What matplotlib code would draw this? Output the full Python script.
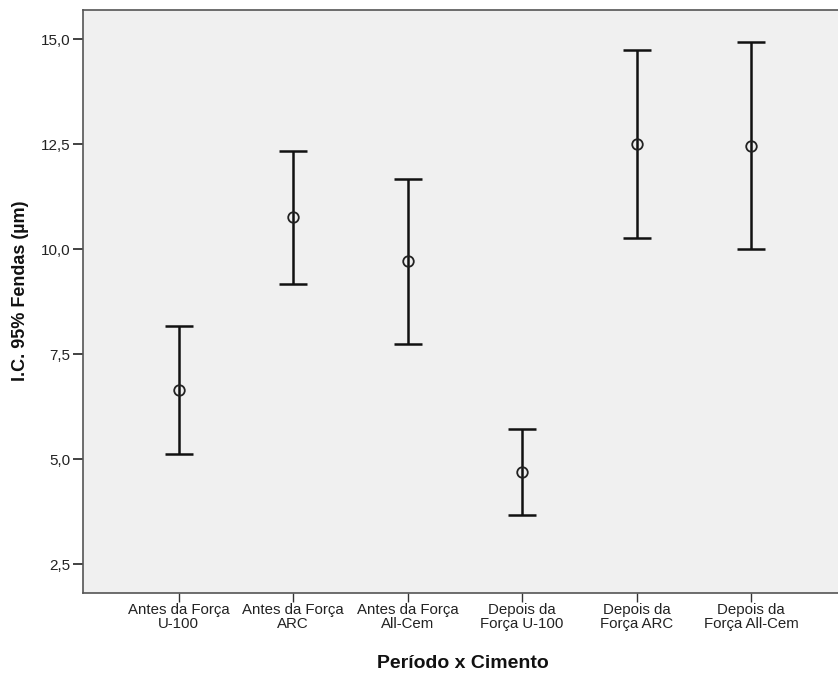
import matplotlib
matplotlib.use("Agg")
import matplotlib.pyplot as plt
import numpy as np

categories = ["Antes da Força\nU-100", "Antes da Força\nARC", "Antes da Força\nAll-Cem",
              "Depois da\nForça U-100", "Depois da\nForça ARC", "Depois da\nForça All-Cem"]
means = [6.64, 10.76, 9.72, 4.70, 12.50, 12.47]
lower = [5.11, 9.18, 7.75, 3.66, 10.26, 10.01]
upper = [8.17, 12.35, 11.67, 5.71, 14.75, 14.94]
yticks = [2.5, 5.0, 7.5, 10.0, 12.5, 15.0]
ytick_labels = ["2,5", "5,0", "7,5", "10,0", "12,5", "15,0"]

plt.rcParams['font.family'] = ['Liberation Sans', 'DejaVu Sans']

fig = plt.figure(figsize=(8.38, 6.77), dpi=100)
ax = fig.add_axes([83/838, 1-593/677, 1-83/838, (593-9.7)/677])
ax.set_facecolor('#F0F0F0')

x = np.arange(len(categories))
m = np.array(means)
yerr = np.vstack([m - np.array(lower), np.array(upper) - m])
ax.errorbar(x, m, yerr=yerr, fmt='none', ecolor='#111111', elinewidth=1.8,
            capsize=10.4, capthick=1.8, zorder=2)
ax.plot(x, m, 'o', mfc='none', mec='#222222', mew=1.3, ms=7.6, zorder=3)

ax.set_xlim(-0.837, 5.76)
ax.set_ylim(1.81, 15.705)
ax.set_yticks(yticks)
ax.set_yticklabels(ytick_labels)
ax.set_xticks(x)
ax.set_xticklabels(categories, linespacing=0.95)

for s in ['left', 'bottom', 'top']:
    ax.spines[s].set_color('#555555')
    ax.spines[s].set_linewidth(1.2)
ax.spines['right'].set_visible(False)

ax.tick_params(axis='y', direction='out', length=7, width=1.3, color='#333333',
               labelsize=11, labelcolor='#222222', pad=2)
ax.tick_params(axis='x', direction='out', length=6.5, width=1.0, color='#333333',
               labelsize=10.8, labelcolor='#222222', pad=1)

ax.set_ylabel("I.C. 95% Fendas (µm)", fontsize=13, fontweight='bold', color='#111111',
              va='center', ha='center')
ax.yaxis.set_label_coords(-0.0834, 0.518)
ax.set_xlabel("Período x Cimento", fontsize=14, fontweight='bold', color='#111111',
              va='center', ha='center')
ax.xaxis.set_label_coords((463-83)/755, (593-663)/583.3)

fig.savefig("out.png", dpi=100, facecolor='white')
